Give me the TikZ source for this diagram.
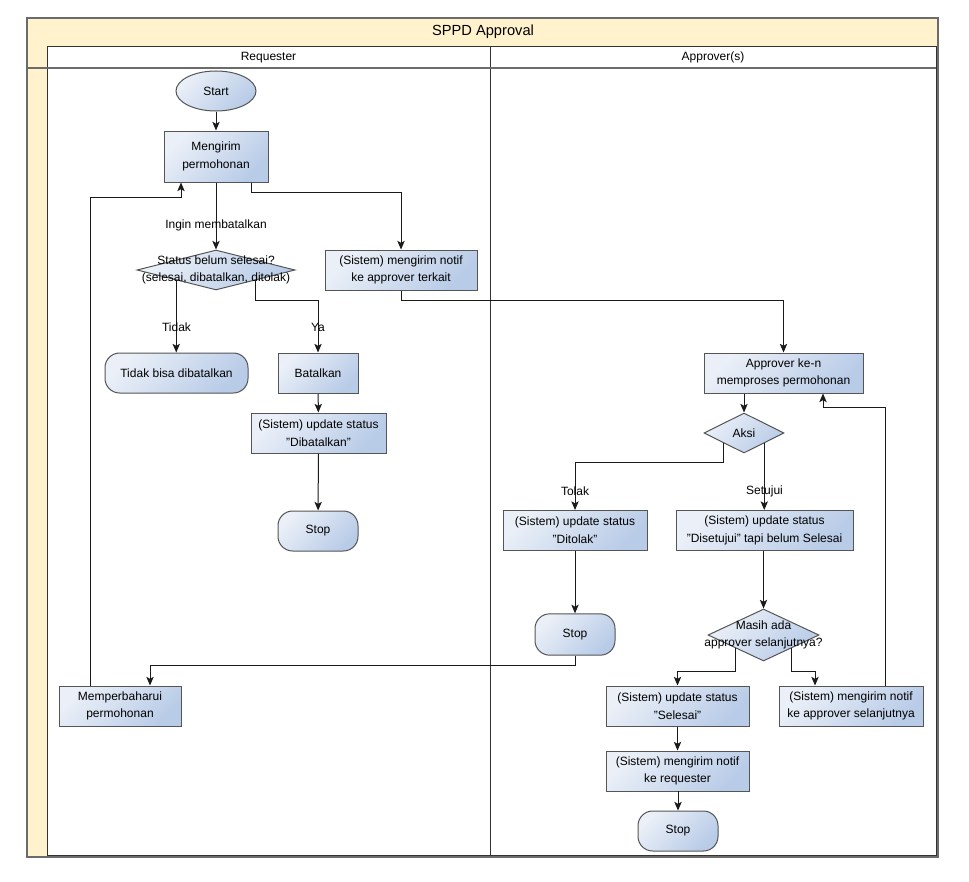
\documentclass[tikz,border=0pt]{standalone}
\usepackage{fontspec}
\setmainfont{Liberation Sans}
\usetikzlibrary{shapes.geometric,arrows.meta,calc}
\definecolor{poolfill}{HTML}{FFF2CC}
\definecolor{poolstroke}{HTML}{6B6B6B}
\definecolor{lanestroke}{HTML}{333333}
\definecolor{nstroke}{HTML}{555555}
\definecolor{gtop}{HTML}{EBF0F8}
\definecolor{gbot}{HTML}{B8CBE7}
\definecolor{edgec}{HTML}{1A1A1A}
\newcommand{\dq}{\symbol{34}}
\begin{document}
\begin{tikzpicture}[x=0.75pt,y=-0.75pt,
  txt/.style={font=\fontsize{9}{13.3}\selectfont, align=center},
  box/.style={txt, draw=nstroke, line width=0.75pt, top color=gtop, bottom color=gbot, shading angle=45, inner sep=0pt, minimum height=30pt},
  term/.style={box, rounded corners=11pt},
  startshape/.style={box, ellipse},
  dia/.style={diamond, draw=nstroke, line width=0.75pt, top color=gtop, bottom color=gbot, shading angle=45, inner sep=0pt},
  arr/.style={draw=edgec, line width=0.75pt, -{Stealth[length=6.5pt,width=5.5pt,inset=1.5pt]}},
  lbl/.style={txt, inner sep=1pt}
]
\useasboundingbox (0,0) rectangle (969,881);
% pool
\path[fill=poolfill, draw=poolstroke, line width=1pt] (27,18) rectangle (938,857);
\draw[poolstroke, line width=1pt] (27,68) -- (938,68);
\node[font=\fontsize{11}{13}\selectfont] (title) at (483,32) {SPPD Approval};
% lanes
\path[fill=white, draw=lanestroke, line width=0.75pt] (47,47) rectangle (490,855);
\path[fill=white, draw=lanestroke, line width=0.75pt] (490,47) rectangle (936,855);
\draw[poolstroke, line width=1pt] (47,68) -- (936,68);
\node[txt] (lane1) at (268.5,57.5) {Requester};
\node[txt] (lane2) at (713,57.5) {Approver(s)};

% Requester nodes
\node[startshape, minimum width=60pt] (start) at (216,91) {Start};
\node[box, minimum width=78pt, minimum height=38.25pt] (m) at (216,156.5) {Mengirim\\permohonan};
\node[dia, minimum width=118.5pt, minimum height=30pt] (d1) at (216,270) {};
\node[txt] (d1t) at (216,270) {Status belum selesai?\\(selesai, dibatalkan, ditolak)};
\node[box, minimum width=114pt] (n1) at (401,270) {(Sistem) mengirim notif\\ke approver terkait};
\node[term, minimum width=107.25pt] (tb) at (176.5,373) {Tidak bisa dibatalkan};
\node[box, minimum width=60pt] (bt) at (318,373) {Batalkan};
\node[box, minimum width=101.25pt] (dbt) at (318.5,433) {(Sistem) update status\\\dq Dibatalkan\dq};
\node[term, minimum width=60pt] (stop1) at (318,531) {Stop};
\node[box, minimum width=91.5pt] (mp) at (120,706) {Memperbaharui\\permohonan};

% Approver nodes
\node[box, minimum width=119.25pt] (ap) at (783.5,373) {Approver ke-n\\memproses permohonan};
\node[dia, minimum width=60pt, minimum height=30pt] (aksi) at (744,433) {};
\node[txt] (aksit) at (744,433) {Aksi};
\node[box, minimum width=108pt] (dt) at (575,530.5) {(Sistem) update status\\\dq Ditolak\dq};
\node[box, minimum width=132.75pt] (ds) at (764.5,530.5) {(Sistem) update status\\\dq Disetujui\dq{} tapi belum Selesai};
\node[term, minimum width=60pt, minimum height=31pt] (stop2) at (575,634.5) {Stop};
\node[dia, minimum width=83.25pt, minimum height=39pt] (masih) at (763.5,635) {};
\node[txt] (masiht) at (763.5,635) {Masih ada\\approver selanjutnya?};
\node[box, minimum width=107.25pt] (sel) at (677.5,706) {(Sistem) update status\\\dq Selesai\dq};
\node[box, minimum width=108pt] (ns) at (851,706) {(Sistem) mengirim notif\\ke approver selanjutnya};
\node[box, minimum width=107.25pt] (nr) at (677.5,771) {(Sistem) mengirim notif\\ke requester};
\node[term, minimum width=60pt] (stop3) at (678,831) {Stop};

% helper coordinates on diamond edges
\coordinate (d1a) at ($(d1.west)!0.5!(d1.south)$);
\coordinate (d1b) at ($(d1.east)!0.5!(d1.south)$);
\coordinate (a1) at ($(aksi.west)!0.5!(aksi.south)$);
\coordinate (a2) at ($(aksi.east)!0.5!(aksi.south)$);
\coordinate (m1) at ($(masih.west)!0.5!(masih.south)$);
\coordinate (m2) at ($(masih.east)!0.5!(masih.south)$);

% connectors
\draw[arr] (start) -- (m);
\draw[arr] (m) -- (d1.north);
\node[lbl] (l1) at ($(d1.north)+(0,-24)$) {Ingin membatalkan};
\draw[arr] ($(m.south)+(35,0)$) -- ++(0,10) -| (n1.north);
\draw[arr] (d1a) -- (d1a |- tb.north);
\node[lbl] (l2) at ($(tb.north)+(0,-25)$) {Tidak};
\draw[arr] (d1b) -- ++(0,20) -| (bt.north);
\node[lbl] (l3) at ($(bt.north)+(0,-25)$) {Ya};
\draw[arr] (bt) -- (dbt);
\draw[arr] (dbt) -- (stop1);
\draw[arr] (n1.south) -- ++(0,10) -| (ap.north);
\draw[arr] (aksi.north |- ap.south) -- (aksi.north);
\draw[arr] (a1) -- ++(0,19) -| (dt.north);
\node[lbl] (l4) at ($(dt.north)+(0,-19)$) {Tolak};
\draw[arr] (a2) -- (a2 |- ds.north);
\node[lbl] (l5) at ($(ds.north)+(0,-19)$) {Setujui};
\draw[arr] (dt) -- (stop2);
\draw[arr] (masih.north |- ds.south) -- (masih.north);
\draw[arr] (m1) -- ++(0,23) -| (sel.north);
\draw[arr] (m2) -- ++(0,23) -| ($(ns.north)+(-36,0)$);
\draw[arr] ($(ns.north)+(34,0)$) |- ($(ap.south)+(39.5,14)$) -- ($(ap.south)+(39.5,0)$);
\draw[arr] (sel) -- (nr);
\draw[arr] (nr.south) -- (nr.south -| stop3) -- (stop3.north);
\draw[arr] (stop2.south) -- ++(0,10) -| ($(mp.north)+(30,0)$);
\draw[arr] ($(mp.north)+(-30,0)$) |- ($(m.south)+(-35,15)$) -- ($(m.south)+(-35,0)$);
\end{tikzpicture}
\end{document}
